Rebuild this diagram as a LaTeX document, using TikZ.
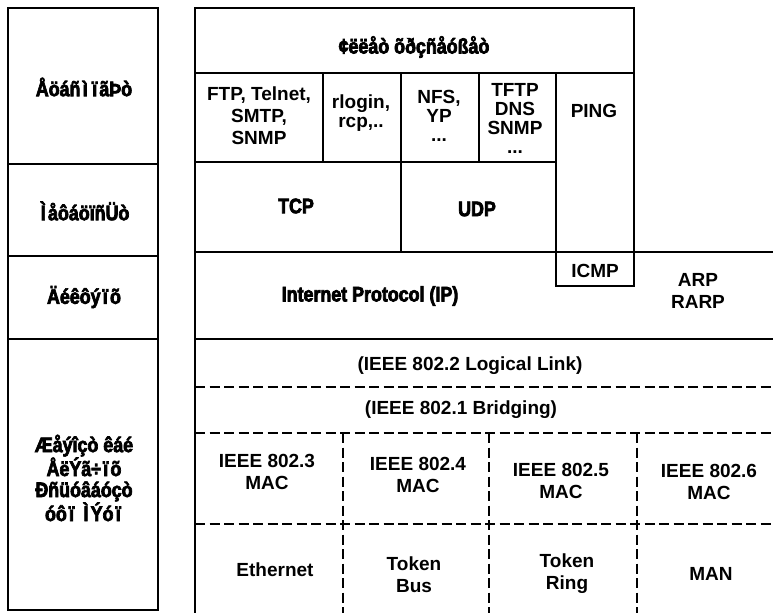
\documentclass[tikz,border=0pt]{standalone}
\usepackage{fontspec}
\setmainfont{Liberation Sans}
\newfontfamily\heavy[FakeStretch=0.85]{Liberation Sans Bold}
% heavier strokes: fill and outline the glyphs
\newcommand\ink[1]{\special{pdf:literal direct 2 Tr 0.7 w}#1\special{pdf:literal direct 0 Tr}}
% narrow accented letters sit in a wider cell
\newcommand\wc[1]{\makebox[0.45em]{#1}}

\tikzset{
  lbl/.style={font=\fontsize{19}{22}\selectfont\bfseries, align=center, inner sep=0pt},
  tight/.style={font=\fontsize{19}{19}\selectfont\bfseries},
  hvy/.style={font=\heavy\fontsize{21}{21}\selectfont, align=center, inner sep=0pt},
  frame/.style={line width=2.2pt},
  thin frame/.style={line width=1.3pt},
  dash line/.style={line width=1.6pt, dash pattern=on 10pt off 4.5pt},
}

\begin{document}
\begin{tikzpicture}[x=1pt, y=-1pt]
\useasboundingbox (0,0) rectangle (773,613);

% layer names column
\draw[frame] (8,8) rectangle (158,610);
\draw[frame] (8,164) -- (158,164);
\draw[frame] (8,256) -- (158,256);
\draw[frame] (8,339) -- (158,339);

% protocol stack: upper layers
\draw[frame] (195,8) rectangle (634,73);
\draw[frame] (195,73) -- (195,613);
\draw[frame] (634,73) -- (634,252);
\draw[frame] (195,162) -- (556,162);
\foreach \x in {323,401,479} \draw[frame] (\x,73) -- (\x,162);
\draw[frame] (556,73) -- (556,252);
\draw[frame] (401,162) -- (401,252);
\draw[frame] (195,252) -- (773,252);
\draw[thin frame] (556,252) rectangle (634,286);
\draw[frame] (195,339) -- (773,339);

% link layer sublayers
\foreach \y in {387,433,524} \draw[dash line] (195,\y) -- (773,\y);
\foreach \x in {343,489,637} \draw[dash line] (\x,433) -- (\x,613);

% layer names
\node[hvy] (app)  at (84,87)  {\ink{Åöáñ\wc{ì}\wc{ï}ãÞò}};
\node[hvy] (tra)  at (84,211) {\ink{\wc{Ì}åôáöïñÜò}};
\node[hvy] (net)  at (84,297) {\ink{Äéêôý\wc{ï}õ}};
\node[hvy] (link) at (84,478)
  {\ink{Æåýîçò êáé}\\\ink{ÅëÝã÷\wc{ï}õ}\\\ink{Ðñüóâáóçò}\\\ink{óô\wc{ï} \wc{Ì}Ýó\wc{ï}}};

% upper layer protocols
\node[hvy] (svc)  at (414,47) {\ink{¢ëëåò õðçñåóßåò}};
\node[lbl] (ftp)  at (259,116) {FTP, Telnet,\\SMTP,\\SNMP};
\node[lbl, tight] (rlg) at (361,113) {rlogin,\\rcp,..};
\node[lbl, tight] (nfs) at (439,116) {NFS,\\YP\\...};
\node[lbl, tight] (tftp) at (515,118) {TFTP\\DNS\\SNMP\\...};
\node[lbl] (ping) at (594,111) {PING};
\node[hvy] (tcp)  at (296,206) {\ink{TCP}};
\node[hvy] (udp)  at (477,209) {\ink{UDP}};
\node[hvy] (ip)   at (370,296) {\ink{Internet Protocol (IP)}};
\node[lbl] (icmp) at (595,271) {ICMP};
\node[lbl] (arp)  at (698,291) {ARP\\RARP};

% IEEE 802 family
\node[lbl] (llc)  at (470,366) {(IEEE 802.2 Logical Link)};
\node[lbl] (brg)  at (461,410) {(IEEE 802.1 Bridging)};
\node[lbl] (m3)   at (267,472) {IEEE 802.3\\MAC};
\node[lbl] (m4)   at (418,475) {IEEE 802.4\\MAC};
\node[lbl] (m5)   at (561,481) {IEEE 802.5\\MAC};
\node[lbl] (m6)   at (709,482) {IEEE 802.6\\MAC};
\node[lbl] (eth)  at (275,570) {Ethernet};
\node[lbl] (tbus) at (414,575) {Token\\Bus};
\node[lbl] (tring) at (567,574) {Token\\Ring};
\node[lbl] (man)  at (711,574) {MAN};
\end{tikzpicture}
\end{document}
